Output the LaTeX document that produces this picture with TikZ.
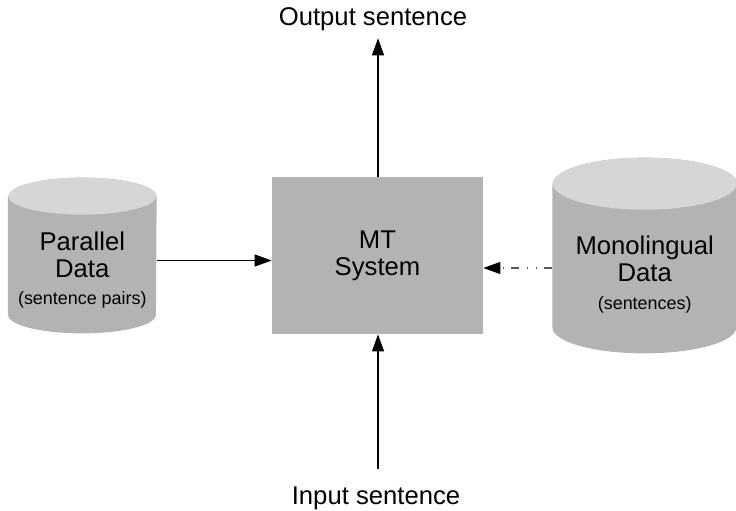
\documentclass[tikz,border=0pt]{standalone}
\usepackage{fontspec}
\setmainfont{Liberation Sans}
\usetikzlibrary{positioning,arrows.meta}
\definecolor{boxgray}{HTML}{B3B3B3}
\definecolor{capgray}{HTML}{D6D6D6}
\newcommand{\bigtxt}{\fontsize{14.6}{15.4}\selectfont}
\newcommand{\smalltxt}{\fontsize{10.2}{13}\selectfont}
% cylinder drawn over a node: name, x radius, y radius
\newcommand{\drawdb}[3]{%
  \fill[boxgray] ([yshift=-#3]#1.north west) -- ([yshift=#3]#1.south west)
    arc[start angle=180, end angle=360, x radius=#2, y radius=#3]
    -- ([yshift=-#3]#1.north east)
    arc[start angle=0, end angle=180, x radius=#2, y radius=#3] -- cycle;
  \fill[capgray] ([yshift=-#3]#1.north) ellipse[x radius=#2, y radius=#3];}

\begin{document}
\begin{tikzpicture}[
box/.style={rectangle, fill=boxgray, minimum width=4.22cm, minimum height=3.14cm, align=center, font=\bigtxt},
db/.style={rectangle, inner sep=0pt},
txt/.style={align=center, font=\bigtxt},
arr/.style={-{Triangle[length=0.34cm,width=0.24cm,color=black]}, line width=0.6pt}
]
\useasboundingbox (0,0) rectangle (14.72,-10.22);
%Nodes
\node[box]   (mt)   at (7.55,-5.11)                {MT\\System};
\node[db, minimum width=2.96cm, minimum height=3.1cm]  (pd) [left=2.3cm of mt]   {};
\node[db, minimum width=3.68cm, minimum height=3.9cm]  (md) [right=1.38cm of mt] {};
\drawdb{pd}{1.48cm}{0.37cm}
\drawdb{md}{1.84cm}{0.52cm}
\node[txt]   (pdtext) at ([yshift=-0.29cm]pd.center) {Parallel\\Data\\{\smalltxt (sentence pairs)}};
\node[txt]   (mdtext) at ([yshift=-0.38cm]md.center) {Monolingual\\Data\\{\smalltxt (sentences)}};
\node[txt]   (out)  at (7.46,-0.38)                {Output sentence};
\node[txt]   (in)   at (7.52,-9.96)                {Input sentence};
%Lines
\draw[arr] ([yshift=-0.1cm]pd.east) -- ([yshift=-0.1cm]mt.west);
\draw[arr, draw=gray!70!black, dash pattern=on 0.16cm off 0.14cm on 0.03cm off 0.15cm on 0.03cm off 0.15cm] ([yshift=-0.25cm]md.west) -- ([yshift=-0.25cm]mt.east);
\draw[arr, shorten >=0.03cm] (mt.north -| 7.56,0) -- (out.south -| 7.56,0);
\draw[arr, shorten <=0.22cm] (in.north -| 7.56,0) -- (mt.south -| 7.56,0);
\end{tikzpicture}
\end{document}
